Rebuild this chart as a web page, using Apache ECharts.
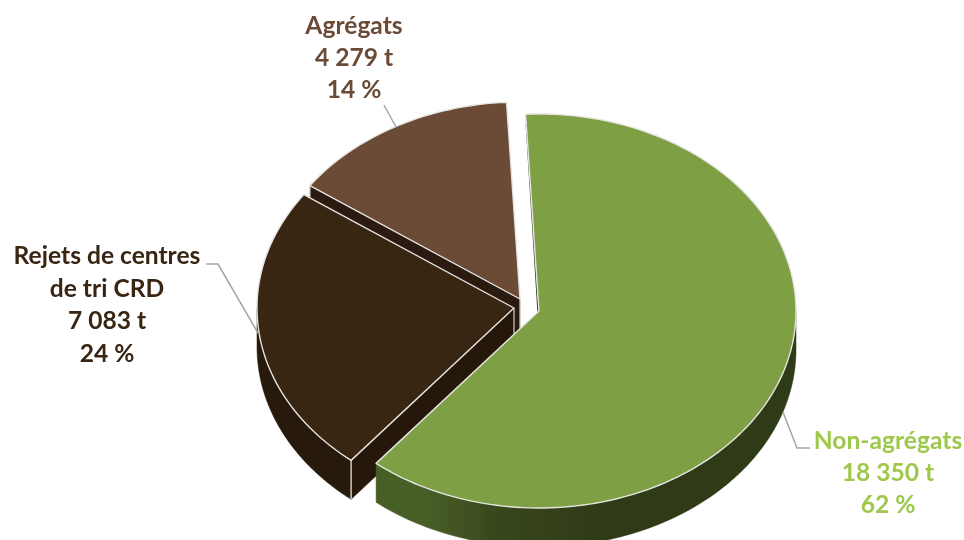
<!DOCTYPE html>
<html><head><meta charset="utf-8">
<style>html,body{margin:0;padding:0;background:#fff}#c{width:964px;height:540px}</style>
<script src="https://cdn.jsdelivr.net/npm/echarts@6/dist/echarts.min.js"></script>
</head><body><div id="c"></div>
<script>
const categories = ['Non-agrégats', 'Rejets de centres\nde tri CRD', 'Agrégats'];
const tonnes = [18350, 7083, 4279];
const topColors = ['#7f9f45', '#382512', '#6b4a36'];
const labelColors = ['#9dc84b', '#382512', '#6b4a36'];
const apexX = [539, 514, 520];
const apexY = [311, 308, 299];
const labelX = [888, 107, 354];
const labelY = [473, 305, 58];
const leaderLines = [
  [[783,412],[797,448],[810,448]],
  [[206,264],[218,264],[258,333]],
  [[384,105],[396,127]]
];
const RX = 257, RY = 197, DEPTH = 39, START = -3, EDGE = '#e4e4e0', STEP = 1.5;

const total = tonnes.reduce((a,b)=>a+b,0);
const fmt = v => String(v).replace(/\B(?=(\d{3})+$)/g, ' ');
const starts = []; let acc = START;
tonnes.forEach(v => { starts.push(acc); acc += v/total*360; });

const pt = (i, deg, dy=0) => {
  const r = deg*Math.PI/180;
  return [apexX[i]+RX*Math.sin(r), apexY[i]-RY*Math.cos(r)+dy];
};
const arc = (i, a, b, dy=0) => {
  const out = [], n = Math.max(2, Math.ceil(Math.abs(b-a)/STEP));
  for (let k=0;k<=n;k++) out.push(pt(i, a+(b-a)*k/n, dy));
  return out;
};

const wallFill = i => i === 0
  ? new echarts.graphic.LinearGradient(376,0,600,0,[
      {offset:0,color:'#465d25'},{offset:0.2,color:'#486026'},
      {offset:0.55,color:'#38461c'},{offset:1,color:'#2f3b17'}],true)
  : (i === 1 ? '#27190b' : '#2a1a10');

function renderItem(params, api) {
  const i = api.value(0);
  const a = starts[i], b = a + tonnes[i]/total*360;
  const children = [];
  const fill = wallFill(i);
  const apex = [apexX[i], apexY[i]];
  // walls: outer rim where it faces the viewer, then the cut faces
  const wa = Math.max(a, 90), wb = Math.min(b, 270);
  if (wb > wa) children.push({type:'polygon', shape:{points:[...arc(i,wa,wb), ...arc(i,wb,wa,DEPTH)]},
    style:{fill, stroke:fill, lineWidth:0.5}});
  if (i !== 0) {
    const e = pt(i, a);
    const c = i===1?'#25180a':'#2a1a10';
    children.push({type:'polygon', shape:{points:[apex, e, [e[0],e[1]+DEPTH], [apex[0],apex[1]+DEPTH]]},
      style:{fill:c, stroke:c, lineWidth:0.5}});
    children.push({type:'polyline', shape:{points:[e,[e[0],e[1]+DEPTH]]}, style:{fill:null, stroke:EDGE, lineWidth:1.3}});
    children.push({type:'polyline', shape:{points:[apex,[apex[0],apex[1]+DEPTH]]}, style:{fill:null, stroke:EDGE, lineWidth:1.1}});
  } else {
    const e = pt(i, a);
    children.push({type:'polyline', shape:{points:[[e[0]+0.6,e[1]+10],[apex[0]-1,apex[1]+1]]},
      style:{fill:null, stroke:'#33451a', lineWidth:1.2}});
  }
  // top face
  children.push({type:'polygon', shape:{points:[apex, ...arc(i,a,b)]},
    style:{fill:topColors[i], stroke:EDGE, lineWidth:1.4, lineJoin:'round'}});
  // leader line
  children.push({type:'polyline', shape:{points:leaderLines[i]}, style:{fill:null, stroke:'#a6a6a6', lineWidth:1.5}});
  // label
  const pct = Math.round(tonnes[i]/total*100);
  children.push({type:'text', x:labelX[i], y:labelY[i], style:{
    text: categories[i] + '\n' + fmt(tonnes[i]) + ' t\n' + pct + ' %',
    font:'bold 24.6px Lato', lineHeight:32.4, fill:labelColors[i], align:'center', verticalAlign:'middle'}});
  return {type:'group', children};
}

const chart = echarts.init(document.getElementById('c'), null, {renderer:'canvas'});
chart.setOption({
  animation:false,
  backgroundColor:'#fff',
  series:[{
    type:'custom',
    coordinateSystem:'none',
    renderItem,
    silent:true,
    data:[[2],[1],[0]]
  }]
});
</script></body></html>
